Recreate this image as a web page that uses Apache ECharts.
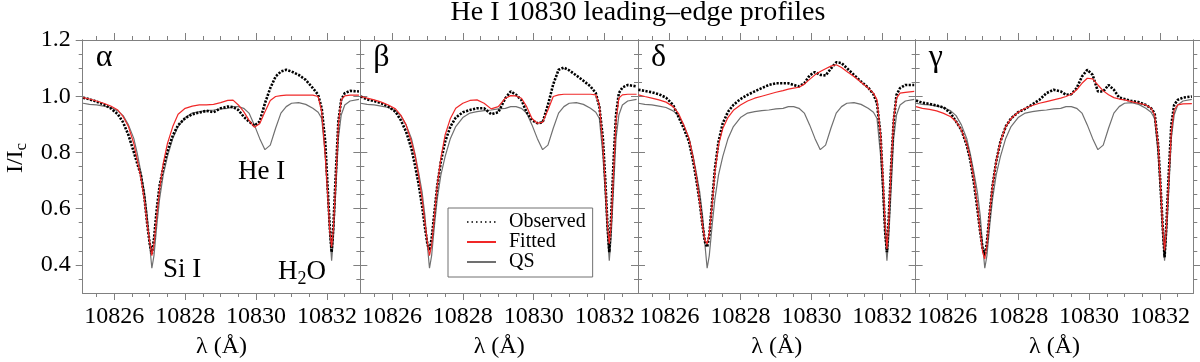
<!DOCTYPE html>
<html>
<head>
<meta charset="utf-8">
<script src="https://cdn.jsdelivr.net/npm/echarts@6/dist/echarts.min.js"></script>
<style>
  html, body { margin: 0; background: #fff; }
  #chartBox { width: 1200px; height: 362px; }
</style>
</head>
<body>
<div id="chartBox"></div>
<script>
// panel labels and tick values
const panelNames = ['α', 'β', 'δ', 'γ']
const xTicks = [10826, 10828, 10830, 10832]
const yTicks = [0.4, 0.6, 0.8, 1.0, 1.2]

// wavelength samples (Å), shared by every profile
const wave = [
  10825.12, 10825.30, 10825.50, 10825.70, 10825.90, 10826.10, 10826.25, 10826.40, 10826.55, 10826.65,
  10826.75, 10826.85, 10826.93, 10827.00, 10827.06, 10827.12, 10827.20, 10827.28, 10827.38, 10827.50,
  10827.65, 10827.80, 10828.00, 10828.20, 10828.40, 10828.60, 10828.80, 10829.00, 10829.20, 10829.35,
  10829.50, 10829.65, 10829.80, 10829.95, 10830.10, 10830.25, 10830.40, 10830.55, 10830.70, 10830.85,
  10831.00, 10831.20, 10831.40, 10831.60, 10831.75, 10831.85, 10831.95, 10832.02, 10832.08, 10832.13,
  10832.18, 10832.25, 10832.32, 10832.40, 10832.50, 10832.65, 10832.90
]

// quiet sun reference (same in all panels)
const qsProfile = [
  0.975, 0.971, 0.969, 0.965, 0.960, 0.948, 0.931, 0.898, 0.850, 0.796,
  0.731, 0.660, 0.576, 0.469, 0.388, 0.433, 0.540, 0.636, 0.719, 0.785,
  0.850, 0.892, 0.924, 0.940, 0.945, 0.949, 0.951, 0.955, 0.957, 0.963,
  0.963, 0.957, 0.940, 0.898, 0.850, 0.810, 0.826, 0.886, 0.940, 0.963,
  0.975, 0.977, 0.971, 0.957, 0.943, 0.921, 0.790, 0.648, 0.505, 0.415,
  0.493, 0.671, 0.850, 0.933, 0.969, 0.983, 0.989
]

// alpha
const obsAlpha = [
  0.995, 0.989, 0.981, 0.971, 0.957, 0.936, 0.907, 0.862, 0.802, 0.760,
  0.720, 0.640, 0.545, 0.475, 0.439, 0.493, 0.600, 0.683, 0.745, 0.805,
  0.860, 0.897, 0.922, 0.936, 0.942, 0.948, 0.943, 0.957, 0.963, 0.961,
  0.951, 0.927, 0.910, 0.895, 0.910, 0.975, 1.029, 1.070, 1.088, 1.094,
  1.088, 1.076, 1.058, 1.029, 1.005, 0.957, 0.838, 0.671, 0.529, 0.445,
  0.540, 0.731, 0.910, 0.987, 1.011, 1.019, 1.017
]
const fitAlpha = [
  0.995, 0.990, 0.983, 0.975, 0.965, 0.951, 0.927, 0.892, 0.832, 0.773,
  0.710, 0.630, 0.545, 0.481, 0.433, 0.475, 0.576, 0.671, 0.760, 0.832,
  0.892, 0.936, 0.957, 0.965, 0.969, 0.969, 0.971, 0.977, 0.985, 0.986,
  0.969, 0.945, 0.915, 0.890, 0.902, 0.945, 0.985, 0.999, 1.002, 1.004,
  1.004, 1.004, 1.004, 1.004, 0.999, 0.945, 0.790, 0.648, 0.517, 0.463,
  0.529, 0.707, 0.898, 0.987, 1.001, 1.004, 1.004
]

// beta
const obsBeta = [
  0.999, 0.989, 0.983, 0.975, 0.963, 0.945, 0.915, 0.874, 0.814, 0.755,
  0.690, 0.610, 0.535, 0.475, 0.451, 0.493, 0.588, 0.683, 0.767, 0.838,
  0.892, 0.924, 0.943, 0.951, 0.957, 0.957, 0.936, 0.943, 0.993, 1.017,
  1.005, 0.987, 0.943, 0.915, 0.904, 0.907, 0.969, 1.043, 1.094, 1.102,
  1.092, 1.074, 1.055, 1.035, 1.011, 0.963, 0.850, 0.695, 0.540, 0.445,
  0.564, 0.767, 0.933, 1.011, 1.031, 1.040, 1.035
]
const fitBeta = [
  0.999, 0.993, 0.987, 0.979, 0.969, 0.955, 0.933, 0.898, 0.838, 0.790,
  0.719, 0.636, 0.552, 0.481, 0.433, 0.469, 0.576, 0.683, 0.779, 0.862,
  0.921, 0.957, 0.975, 0.985, 0.987, 0.975, 0.955, 0.963, 0.993, 1.002,
  1.001, 0.993, 0.963, 0.921, 0.904, 0.907, 0.951, 0.999, 1.005, 1.007,
  1.007, 1.007, 1.007, 1.007, 1.005, 0.969, 0.826, 0.683, 0.540, 0.475,
  0.540, 0.731, 0.910, 0.993, 1.005, 1.007, 1.007
]

// delta
const obsDelta = [
  1.023, 1.019, 1.014, 1.007, 0.995, 0.969, 0.927, 0.886, 0.838, 0.779,
  0.707, 0.624, 0.540, 0.481, 0.463, 0.505, 0.624, 0.743, 0.838, 0.904,
  0.945, 0.969, 0.990, 1.005, 1.017, 1.029, 1.040, 1.046, 1.046, 1.046,
  1.040, 1.035, 1.046, 1.074, 1.086, 1.076, 1.074, 1.098, 1.121, 1.118,
  1.100, 1.076, 1.052, 1.031, 1.007, 0.975, 0.862, 0.683, 0.517, 0.445,
  0.564, 0.755, 0.910, 1.005, 1.029, 1.040, 1.040
]
const fitDelta = [
  1.005, 0.999, 0.993, 0.987, 0.979, 0.963, 0.939, 0.898, 0.850, 0.790,
  0.719, 0.624, 0.540, 0.487, 0.475, 0.511, 0.612, 0.731, 0.826, 0.885,
  0.925, 0.950, 0.969, 0.983, 0.993, 1.000, 1.007, 1.014, 1.020, 1.025,
  1.029, 1.032, 1.043, 1.060, 1.076, 1.088, 1.098, 1.107, 1.112, 1.102,
  1.088, 1.070, 1.050, 1.029, 1.011, 0.987, 0.862, 0.707, 0.540, 0.457,
  0.552, 0.755, 0.921, 0.993, 1.011, 1.014, 1.017
]

// gamma
const obsGamma = [
  0.985, 0.977, 0.973, 0.967, 0.960, 0.939, 0.910, 0.880, 0.826, 0.773,
  0.695, 0.600, 0.517, 0.457, 0.433, 0.481, 0.588, 0.683, 0.767, 0.838,
  0.892, 0.921, 0.943, 0.955, 0.971, 0.987, 1.011, 1.023, 1.017, 1.005,
  1.007, 1.029, 1.070, 1.094, 1.076, 1.017, 1.017, 1.040, 1.023, 0.995,
  0.990, 0.983, 0.979, 0.969, 0.957, 0.939, 0.826, 0.671, 0.529, 0.427,
  0.540, 0.731, 0.898, 0.969, 0.987, 0.995, 0.999
]
const fitGamma = [
  0.963, 0.957, 0.953, 0.948, 0.939, 0.927, 0.910, 0.880, 0.832, 0.779,
  0.707, 0.612, 0.517, 0.445, 0.421, 0.469, 0.588, 0.683, 0.767, 0.838,
  0.892, 0.921, 0.943, 0.957, 0.967, 0.975, 0.981, 0.987, 0.993, 0.999,
  1.007, 1.023, 1.046, 1.064, 1.062, 1.040, 1.019, 1.005, 0.995, 0.990,
  0.987, 0.981, 0.975, 0.969, 0.957, 0.933, 0.826, 0.671, 0.529, 0.451,
  0.529, 0.707, 0.874, 0.951, 0.969, 0.973, 0.974
]

const observed = [obsAlpha, obsBeta, obsDelta, obsGamma]
const fitted = [fitAlpha, fitBeta, fitDelta, fitGamma]

// layout
const X_MIN = 10825.11
const X_MAX = 10832.94
const Y_MIN = 0.3
const Y_MAX = 1.2
const PANEL_LEFT = 82.7
const PANEL_W = 277.65
const PANEL_TOP = 40
const PANEL_H = 253
const axisGray = '#808080'
const serif = '"Liberation Serif", "Times New Roman", serif'
const obsColor = '#000'
const fitColor = '#f02828'
const qsColor = '#707070'

// minor ticks every 0.5 A and 0.05
const xMinor = []
for (let v = 10825.5; v < X_MAX; v += 0.5) {
  if (v % 2 !== 0) xMinor.push(v)
}
const yMinor = []
for (let k = 7; k <= 23; k++) {
  if (k % 4 !== 0) yMinor.push(Math.round(k * 5) / 100)
}

const toPairs = arr => wave.map((w, i) => [w, arr[i]])

const makeAxis = (gi, pos, isX, values, len, labelOpt) => ({
  type: 'value',
  gridIndex: gi,
  position: pos,
  min: isX ? X_MIN : Y_MIN,
  max: isX ? X_MAX : Y_MAX,
  axisLine: { show: true, onZero: false, lineStyle: { color: axisGray, width: 1 } },
  axisTick: { show: true, inside: false, length: len, customValues: values, lineStyle: { color: axisGray, width: 1 } },
  axisLabel: labelOpt || { show: false },
  splitLine: { show: false },
  minorTick: { show: false }
})

const grids = []
const xAxes = []
const yAxes = []
const seriesList = []
const graphics = []

for (let gi = 0; gi < 4; gi++) {
  const left = PANEL_LEFT + gi * PANEL_W
  grids.push({ left: left, top: PANEL_TOP, width: PANEL_W, height: PANEL_H, containLabel: false, outerBoundsMode: 'none' })

  const bottomMajor = makeAxis(gi, 'bottom', true, xTicks, 7, {
    show: true,
    customValues: xTicks,
    formatter: v => String(v),
    fontFamily: serif,
    fontSize: 24,
    color: '#000',
    margin: 12
  })
  bottomMajor.name = 'λ (Å)'
  bottomMajor.nameLocation = 'middle'
  bottomMajor.nameGap = 42
  bottomMajor.nameMoveOverlap = false
  bottomMajor.nameTextStyle = { fontFamily: serif, fontSize: 24, color: '#000' }
  xAxes.push(bottomMajor)
  xAxes.push(makeAxis(gi, 'bottom', true, xMinor, 4))
  xAxes.push(makeAxis(gi, 'top', true, xTicks, 7))
  xAxes.push(makeAxis(gi, 'top', true, xMinor, 4))

  yAxes.push(makeAxis(gi, 'left', false, yTicks, 7, gi === 0 ? {
    show: true,
    customValues: yTicks,
    formatter: v => v.toFixed(1),
    fontFamily: serif,
    fontSize: 24,
    color: '#000',
    margin: 12
  } : null))
  yAxes.push(makeAxis(gi, 'left', false, yMinor, 4))
  yAxes.push(makeAxis(gi, 'right', false, yTicks, 7))
  yAxes.push(makeAxis(gi, 'right', false, yMinor, 4))

  const ax = gi * 4
  seriesList.push({
    name: 'QS', type: 'line', xAxisIndex: ax, yAxisIndex: ax,
    data: toPairs(qsProfile), symbol: 'none', silent: true,
    itemStyle: { color: qsColor },
    lineStyle: { color: qsColor, width: 1.2 }, z: 2
  })
  seriesList.push({
    name: 'Observed', type: 'line', xAxisIndex: ax, yAxisIndex: ax,
    data: toPairs(observed[gi]), symbol: 'none', silent: true,
    itemStyle: { color: obsColor },
    lineStyle: { color: obsColor, width: 2.6, type: [2.2, 1.4] }, z: 3
  })
  seriesList.push({
    name: 'Fitted', type: 'line', xAxisIndex: ax, yAxisIndex: ax,
    data: toPairs(fitted[gi]), symbol: 'none', silent: true,
    itemStyle: { color: fitColor },
    lineStyle: { color: fitColor, width: 1.2 }, z: 4
  })

  graphics.push({
    type: 'text', left: left + 13, top: 42,
    style: { text: panelNames[gi], font: '32px ' + serif, fill: '#000' }
  })
}

// title, line ids and y name
graphics.push({
  type: 'text', x: PANEL_LEFT + 2 * PANEL_W, y: 13,
  style: { text: 'He I 10830 leading–edge profiles', font: '28px ' + serif, fill: '#000', align: 'center', verticalAlign: 'middle' }
})
graphics.push({
  type: 'text', x: 238, y: 172,
  style: { text: 'He I', font: '27px ' + serif, fill: '#000', verticalAlign: 'middle' }
})
graphics.push({
  type: 'text', x: 163, y: 270,
  style: { text: 'Si I', font: '27px ' + serif, fill: '#000', verticalAlign: 'middle' }
})
graphics.push({
  type: 'text', x: 278, y: 272,
  style: {
    text: '{a|H}{b|2}{a|O}', verticalAlign: 'middle',
    rich: {
      a: { fontFamily: serif, fontSize: 27, fill: '#000' },
      b: { fontFamily: serif, fontSize: 18, fill: '#000', padding: [14, 0, 0, 0] }
    }
  }
})
graphics.push({
  type: 'text', x: 16, y: 158, rotation: Math.PI / 2,
  style: {
    text: '{a|I/I}{b|c}', align: 'center', verticalAlign: 'middle',
    rich: {
      a: { fontFamily: serif, fontSize: 24, fill: '#000' },
      b: { fontFamily: serif, fontSize: 17, fill: '#000', padding: [12, 0, 0, 0] }
    }
  }
})

const chart = echarts.init(document.getElementById('chartBox'), null, { renderer: 'canvas' })
const option = {
  animation: false,
  backgroundColor: '#fff',
  grid: grids,
  xAxis: xAxes,
  yAxis: yAxes,
  legend: {
    data: [
      { name: 'Observed', lineStyle: { width: 1.5, type: [1.5, 3] } },
      'Fitted',
      'QS'
    ],
    orient: 'vertical',
    left: 448,
    top: 208,
    padding: [4, 7, 5, 18],
    itemWidth: 29,
    itemHeight: 14,
    itemGap: 0,
    itemStyle: { opacity: 0 },
    selectedMode: false,
    borderColor: '#707070',
    borderWidth: 1,
    backgroundColor: '#fff',
    textStyle: { fontFamily: serif, fontSize: 20, color: '#000', padding: [0, 0, 0, 8] }
  },
  graphic: graphics,
  series: seriesList
}
chart.setOption(option)
</script>
</body>
</html>
